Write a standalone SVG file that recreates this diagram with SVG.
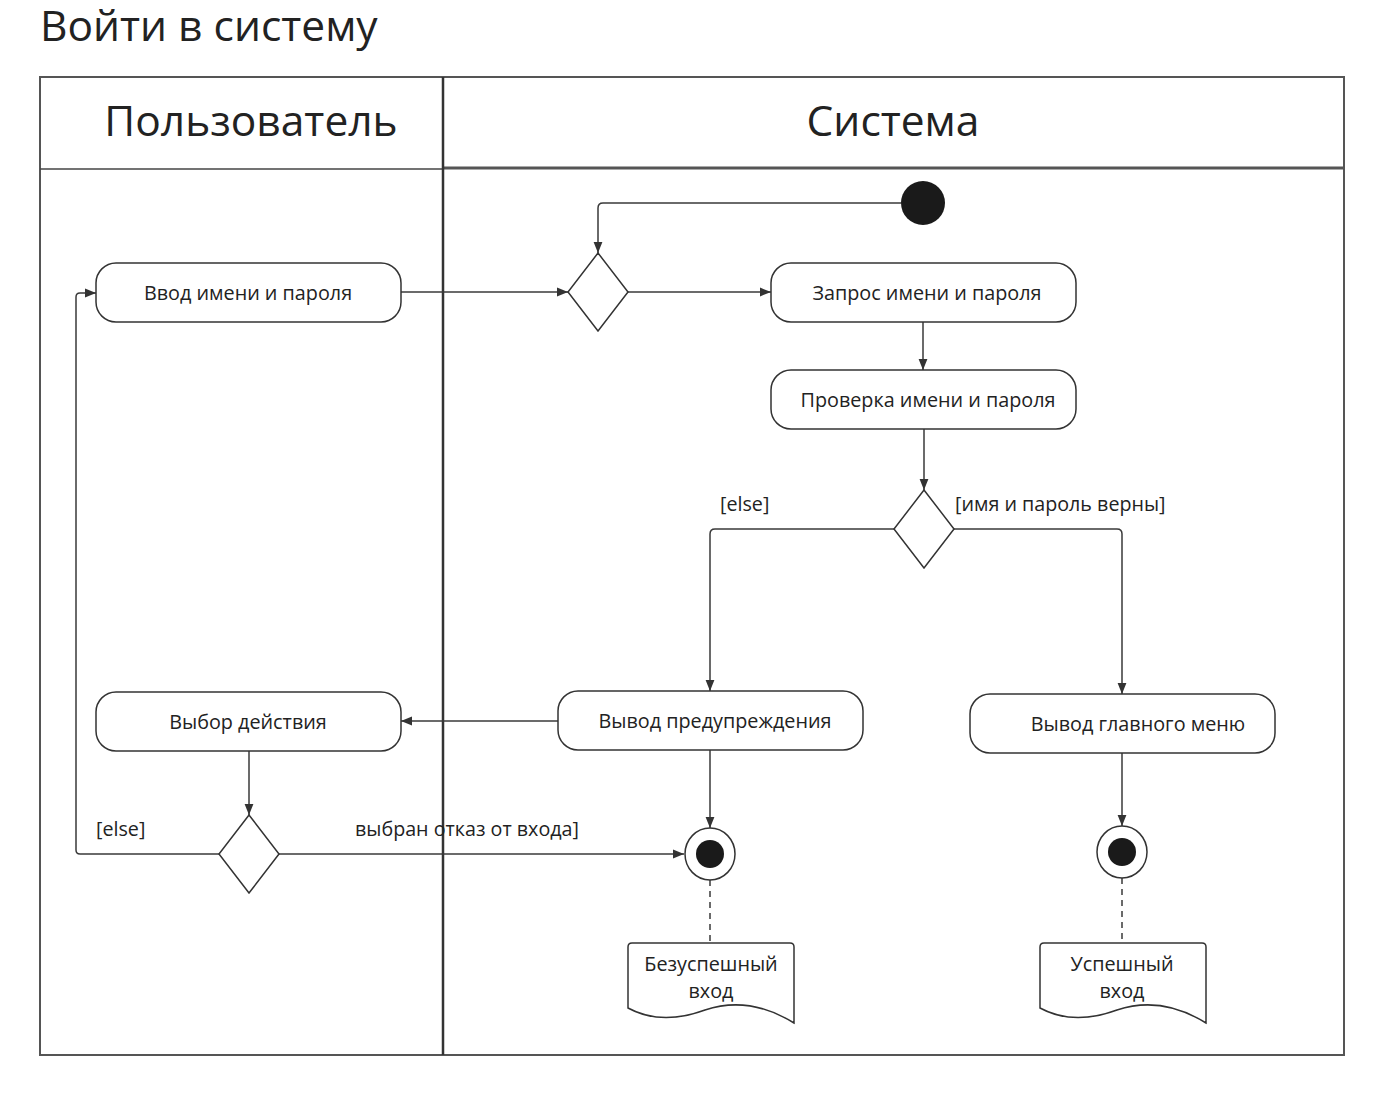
<svg xmlns="http://www.w3.org/2000/svg" width="1397" height="1118" viewBox="0 0 1397 1118">
<style>
text{font-family:"Open Sans","Noto Sans","DejaVu Sans",sans-serif;fill:#222}
.t{font-size:19.8px;text-anchor:middle}
.l{font-size:19.7px}
.h{font-size:42.5px;text-anchor:middle}
.act{fill:#fff;stroke:#333;stroke-width:1.5}
.dia{fill:#fff;stroke:#333;stroke-width:1.5}
.c{fill:none;stroke:#3a3a3a;stroke-width:1.5;marker-end:url(#ah)}
.d{fill:none;stroke:#3a3a3a;stroke-width:1.5;stroke-dasharray:6 5}
.lane{fill:none;stroke:#555;stroke-width:2}
</style>
<defs>
<marker id="ah" viewBox="0 0 10 10" refX="10" refY="5" markerWidth="11" markerHeight="11" markerUnits="userSpaceOnUse" orient="auto">
<path d="M0,1 L10,5 L0,9 Z" fill="#333"/>
</marker>
</defs>
<rect width="1397" height="1118" fill="#fff"/>
<text x="40" y="41" style="font-size:42.5px">Войти в систему</text>
<g id="swimlanes">
<rect class="lane" x="40" y="77" width="1304" height="978"/>
<line x1="40" y1="169" x2="443" y2="169" stroke="#444" stroke-width="1.5"/>
<line x1="443" y1="168" x2="1344" y2="168" stroke="#555" stroke-width="3"/>
<line x1="443" y1="77" x2="443" y2="1055" stroke="#333" stroke-width="2.5"/>
<text class="h" x="251" y="136">Пользователь</text>
<text class="h" x="893" y="136">Система</text>
</g>
<g id="connectors">
<path class="c" d="M901,203 H603 Q598,203 598,208 V253"/>
<path class="c" d="M401,292 H568"/>
<path class="c" d="M628,292 H771"/>
<path class="c" d="M923,322 V370"/>
<path class="c" d="M924,429 V490"/>
<path class="c" d="M894,529 H715 Q710,529 710,534 V691"/>
<path class="c" d="M954,529 H1117 Q1122,529 1122,534 V694"/>
<path class="c" d="M558,721 H401"/>
<path class="c" d="M710,750 V828"/>
<path class="c" d="M1122,753 V826"/>
<path class="c" d="M249,751 V815"/>
<path class="c" d="M219,854 H80 Q76,854 76,850 V297 Q76,293 80,293 H96"/>
<path class="c" d="M279,854 H684"/>
<path class="d" d="M710,880 V943"/>
<path class="d" d="M1122,878 V943"/>
<text class="l" x="720" y="511">[else]</text>
<text class="l" x="955" y="511">[имя и пароль верны]</text>
<text class="l" x="96" y="836">[else]</text>
<text class="l" x="355" y="836">выбран отказ от входа]</text>
</g>
<g id="start"><circle cx="923" cy="203" r="22" fill="#1a1a1a"/></g>
<g id="merge"><polygon class="dia" points="598,253 628,292 598,331 568,292"/></g>
<g id="vvod"><rect class="act" x="96" y="263" width="305" height="59" rx="20"/><text class="t" x="248" y="300">Ввод имени и пароля</text></g>
<g id="zapros"><rect class="act" x="771" y="263" width="305" height="59" rx="20"/><text class="t" x="927" y="300">Запрос имени и пароля</text></g>
<g id="proverka"><rect class="act" x="771" y="370" width="305" height="59" rx="20"/><text class="t" x="928" y="407">Проверка имени и пароля</text></g>
<g id="decision1"><polygon class="dia" points="924,490 954,529 924,568 894,529"/></g>
<g id="preduprezhdenie"><rect class="act" x="558" y="691" width="305" height="59" rx="20"/><text class="t" x="715" y="728">Вывод предупреждения</text></g>
<g id="menu"><rect class="act" x="970" y="694" width="305" height="59" rx="20"/><text class="t" x="1138" y="731">Вывод главного меню</text></g>
<g id="vybor"><rect class="act" x="96" y="692" width="305" height="59" rx="20"/><text class="t" x="248" y="729">Выбор действия</text></g>
<g id="decision2"><polygon class="dia" points="249,815 279,854 249,893 219,854"/></g>
<g id="final1"><ellipse cx="710" cy="854" rx="25" ry="26" fill="#fff" stroke="#333" stroke-width="1.5"/><circle cx="710" cy="854" r="14" fill="#1a1a1a"/></g>
<g id="final2"><ellipse cx="1122" cy="852" rx="25" ry="26" fill="#fff" stroke="#333" stroke-width="1.5"/><circle cx="1122" cy="852" r="14" fill="#1a1a1a"/></g>
<g id="note1"><path class="act" d="M628,947 Q628,943 632,943 H790 Q794,943 794,947 V1023 C765,1005 735,1000 705,1010 C675,1021 650,1020 628,1008 Z"/><text class="t" x="711" y="971">Безуспешный</text><text class="t" x="711" y="998">вход</text></g>
<g id="note2"><path class="act" d="M1040,947 Q1040,943 1044,943 H1202 Q1206,943 1206,947 V1023 C1177,1005 1147,1000 1117,1010 C1087,1021 1062,1020 1040,1008 Z"/><text class="t" x="1122" y="971">Успешный</text><text class="t" x="1122" y="998">вход</text></g>
</svg>
